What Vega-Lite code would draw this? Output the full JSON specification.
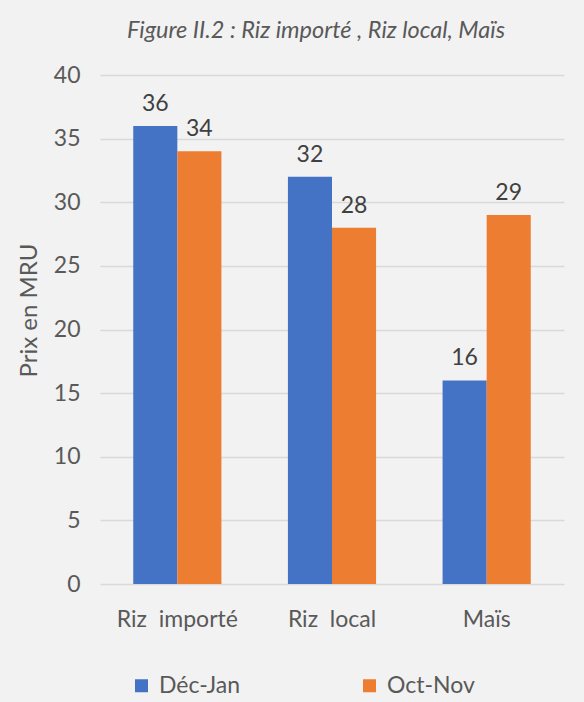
{
  "$schema": "https://vega.github.io/schema/vega-lite/v6.json",
  "width": 464,
  "height": 509,
  "autosize": {"type": "none"},
  "padding": {"left": 100, "top": 75, "right": 20, "bottom": 118},
  "background": "#F2F2F2",
  "title": {
    "text": "Figure II.2 : Riz importé , Riz local, Maïs",
    "font": "Lato",
    "fontStyle": "italic",
    "fontWeight": "normal",
    "fontSize": 23.5,
    "color": "#595959",
    "anchor": "middle",
    "frame": "group",
    "offset": 22,
    "dx": -16
  },
  "data": {
    "values": [
      {"produit": "Riz\u00a0 importé", "periode": "Déc-Jan", "prix": 36},
      {"produit": "Riz\u00a0 importé", "periode": "Oct-Nov", "prix": 34},
      {"produit": "Riz\u00a0 local", "periode": "Déc-Jan", "prix": 32},
      {"produit": "Riz\u00a0 local", "periode": "Oct-Nov", "prix": 28},
      {"produit": "Maïs", "periode": "Déc-Jan", "prix": 16},
      {"produit": "Maïs", "periode": "Oct-Nov", "prix": 29}
    ]
  },
  "encoding": {
    "x": {
      "field": "produit",
      "type": "nominal",
      "sort": null,
      "scale": {"paddingInner": 0.43, "paddingOuter": 0.215},
      "axis": {
        "title": null,
        "labelAngle": 0,
        "labelFont": "Lato",
        "labelFontSize": 23,
        "labelColor": "#595959",
        "labelPadding": 24,
        "ticks": false,
        "domain": false
      }
    },
    "xOffset": {"field": "periode", "type": "nominal", "scale": {"paddingInner": 0, "paddingOuter": 0}},
    "y": {
      "field": "prix",
      "type": "quantitative",
      "scale": {"domain": [0, 40]},
      "axis": {
        "title": "Prix en MRU",
        "titleFont": "Lato",
        "titleFontSize": 24,
        "titleFontWeight": "normal",
        "titleColor": "#595959",
        "titlePadding": 12,
        "titleY": 235,
        "values": [0, 5, 10, 15, 20, 25, 30, 35, 40],
        "labelFont": "Lato",
        "labelFontSize": 23,
        "labelColor": "#595959",
        "labelPadding": 20,
        "ticks": false,
        "domain": false,
        "gridColor": "#D9D9D9",
        "gridWidth": 1.5
      }
    }
  },
  "layer": [
    {
      "mark": {"type": "bar"},
      "encoding": {
        "color": {
          "field": "periode",
          "type": "nominal",
          "scale": {"domain": ["Déc-Jan", "Oct-Nov"], "range": ["#4472C4", "#ED7D31"]},
          "legend": {
            "title": null,
            "orient": "none",
            "legendX": 30,
            "legendY": 599,
            "direction": "horizontal",
            "symbolType": "square",
            "symbolSize": 169,
            "symbolStrokeWidth": 0,
            "labelFont": "Lato",
            "labelFontSize": 23,
            "labelColor": "#595959",
            "labelOffset": 6,
            "columnPadding": 117
          }
        }
      }
    },
    {
      "mark": {"type": "text", "baseline": "alphabetic", "dy": -15, "font": "Lato", "fontSize": 23, "color": "#404040"},
      "encoding": {"text": {"field": "prix", "type": "quantitative"}}
    }
  ],
  "config": {"view": {"stroke": null}}
}
